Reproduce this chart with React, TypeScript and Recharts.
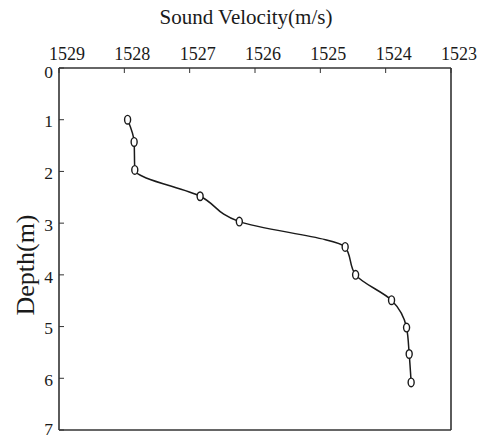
import React from 'react'
import { ComposedChart, Line, XAxis, YAxis, ReferenceLine, Label, Text } from 'recharts'

// sound velocity profile (velocity in m/s, depth in m)
const velocity = [1527.95, 1527.85, 1527.84, 1526.84, 1526.24, 1524.62, 1524.46, 1523.91, 1523.68, 1523.64, 1523.61]
const depth = [1.0, 1.43, 1.97, 2.48, 2.97, 3.46, 4.0, 4.49, 5.02, 5.53, 6.08]
const velocityTicks = [1523, 1524, 1525, 1526, 1527, 1528, 1529]
const depthTicks = [0, 1, 2, 3, 4, 5, 6, 7]

const data = velocity.map((v, i) => ({ velocity: v, depth: depth[i] }))

const FONT = '"Liberation Serif", "DejaVu Serif", serif'
const INK = '#1a1a1a'
const FRAME = '#333'

const OpenDot = (props: any) => {
  const { cx, cy, index } = props
  if (cx == null || cy == null) return null
  return <ellipse key={index} cx={cx} cy={cy} rx={3} ry={4.3} fill="#fff" stroke={INK} strokeWidth={1.4} />
}

// depth labels: "0" sits low in the original, "7" must stay inside the frame
const DepthTick = (props: any) => {
  const { x, y, payload } = props
  const shift = payload.value === 0 ? 4 : payload.value === 7 ? -1.5 : 1.5
  return (
    <Text
      x={x}
      y={y + shift}
      textAnchor="end"
      verticalAnchor="middle"
      fill={INK}
      fontSize={17.5}
      fontFamily={FONT}
    >
      {payload.value}
    </Text>
  )
}

export default function App() {
  return (
    <div style={{ position: 'absolute', left: 0, top: 0, background: '#fff' }}>
      <ComposedChart
        width={488}
        height={440}
        data={data}
        layout="vertical"
        margin={{ top: 0, right: 37, bottom: 10, left: 0 }}
      >
        <XAxis
          type="number"
          dataKey="velocity"
          orientation="top"
          reversed
          domain={[1523, 1529]}
          ticks={velocityTicks}
          interval={0}
          allowDataOverflow
          height={68}
          tickSize={-5}
          tickMargin={13}
          axisLine={{ stroke: FRAME, strokeWidth: 1.6 }}
          tickLine={{ stroke: FRAME, strokeWidth: 1 }}
          tick={{ fill: INK, fontSize: 18, fontFamily: FONT, dx: 8 }}
        >
          <Label
            content={() => (
              <text x={246} y={24} textAnchor="middle" fill={INK} fontSize={21} fontFamily={FONT}>
                Sound Velocity(m/s)
              </text>
            )}
          />
        </XAxis>
        <YAxis
          type="number"
          dataKey="depth"
          domain={[0, 7]}
          ticks={depthTicks}
          interval={0}
          allowDataOverflow
          width={59}
          tickSize={-5}
          tickMargin={11}
          axisLine={{ stroke: FRAME, strokeWidth: 1.6 }}
          tickLine={{ stroke: FRAME, strokeWidth: 1 }}
          tick={DepthTick}
        >
          <Label
            content={() => (
              <text
                x={25}
                y={265}
                transform="rotate(-90 25 265)"
                textAnchor="middle"
                dominantBaseline="central"
                fill={INK}
                fontSize={26}
                fontFamily={FONT}
              >
                Depth(m)
              </text>
            )}
          />
        </YAxis>
        <ReferenceLine x={1523} stroke={FRAME} strokeWidth={1.6} ifOverflow="extendDomain" />
        <ReferenceLine y={7} stroke={FRAME} strokeWidth={1.6} ifOverflow="extendDomain" />
        <Line
          dataKey="velocity"
          type="monotone"
          stroke={INK}
          strokeWidth={1.5}
          dot={OpenDot}
          activeDot={false}
          isAnimationActive={false}
        />
      </ComposedChart>
    </div>
  )
}
